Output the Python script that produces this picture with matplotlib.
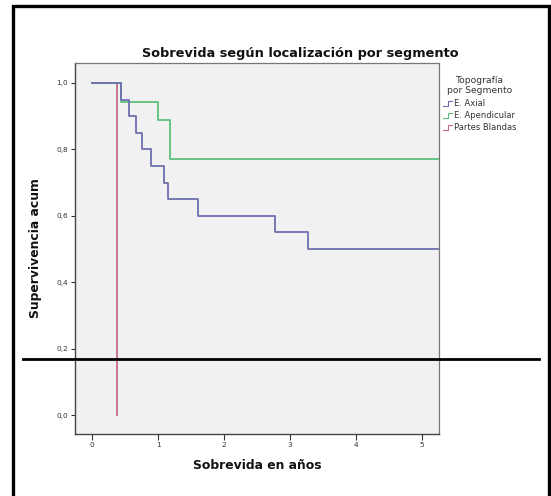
import matplotlib
matplotlib.use('Agg')
import matplotlib.pyplot as plt
from matplotlib.patches import Rectangle
from matplotlib.legend_handler import HandlerLine2D

# ---- data ----
title = "Sobrevida según localización por segmento"
xlabel = "Sobrevida en años"
ylabel = "Supervivencia acum"
legend_title = "Topografía\npor Segmento"
series_names = ["E. Axial", "E. Apendicular", "Partes Blandas"]

axial_t = [0, 0.43, 0.56, 0.66, 0.75, 0.90, 1.09, 1.15, 1.60, 2.77, 3.27, 5.24]
axial_s = [1.0, 0.95, 0.90, 0.85, 0.80, 0.75, 0.70, 0.65, 0.60, 0.55, 0.50, 0.50]

apend_t = [0, 0.43, 1.00, 1.18, 5.24]
apend_s = [1.0, 0.944, 0.889, 0.771, 0.771]

blandas_t = [0, 0.37]
blandas_s = [1.0, 0.0]

xticks = [0, 1, 2, 3, 4, 5]
yticks = [0.0, 0.2, 0.4, 0.6, 0.8, 1.0]
ytick_labels = ["0,0", "0,2", "0,4", "0,6", "0,8", "1,0"]

colors = ["#6f6fb0", "#5cbf7c", "#c86a88"]

W, H = 551, 496
fig = plt.figure(figsize=(W / 100, H / 100), dpi=100)
fig.patch.set_facecolor("white")

# axes placement (pixel-derived)
l, r, t, b = 75, 439, 63, 434
ax = fig.add_axes([l / W, 1 - b / H, (r - l) / W, (b - t) / H])
ax.set_facecolor("#f1f1f1")

ax.step(axial_t, axial_s, where="post", color=colors[0], lw=1.3, label=series_names[0], zorder=3)
ax.step(apend_t, apend_s, where="post", color=colors[1], lw=1.3, label=series_names[1], zorder=2)
ax.step(blandas_t, blandas_s, where="post", color=colors[2], lw=1.3, label=series_names[2], zorder=1)

ax.set_xlim(-0.26, 5.26)
ax.set_ylim(-0.057, 1.06)
ax.set_xticks(xticks)
ax.set_xticklabels([str(v) for v in xticks])
ax.set_yticks(yticks)
ax.set_yticklabels(ytick_labels)
ax.tick_params(axis="both", labelsize=5.3, colors="#333333", length=3, width=0.8)
ax.tick_params(axis="x", length=4, pad=2)
ax.tick_params(axis="y", pad=2)

for side in ["left", "bottom"]:
    ax.spines[side].set_color("#444444")
    ax.spines[side].set_linewidth(1.0)
for side in ["right", "top"]:
    ax.spines[side].set_color("#777777")
    ax.spines[side].set_linewidth(0.9)

fig.text(300 / W, 1 - 53 / H, title, ha="center", va="center",
         fontsize=9.3, fontweight="bold", color="#111111")
ax.set_xlabel(xlabel, fontsize=8.9, fontweight="bold", color="#111111", labelpad=8)
ax.set_ylabel(ylabel, fontsize=8.9, fontweight="bold", color="#111111", labelpad=10)


class StepHandler(HandlerLine2D):
    def create_artists(self, legend, orig_handle, xdescent, ydescent, width, height, fontsize, trans):
        from matplotlib.lines import Line2D
        x0, x1 = -xdescent, -xdescent + width
        y0, y1 = -ydescent + 0.1 * height, -ydescent + 0.9 * height
        xs = [x0, x0 + 0.5 * width, x0 + 0.5 * width, x1]
        ys = [y0, y0, y1, y1]
        line = Line2D(xs, ys, color=orig_handle.get_color(), lw=0.8)
        line.set_transform(trans)
        return [line]


handles, labels = ax.get_legend_handles_labels()
leg = fig.legend(handles, labels, title=legend_title, loc="upper left",
                 bbox_to_anchor=(437 / W, 1 - 70 / H), frameon=False,
                 fontsize=6.0, title_fontsize=6.6, handlelength=1.15, handletextpad=0.2,
                 labelspacing=0.35, borderpad=0.2,
                 handler_map={h: StepHandler() for h in handles})
for txt in leg.get_texts():
    txt.set_color("#333333")
leg.get_title().set_color("#333333")
leg.get_title().set_multialignment("center")
leg._legend_box.sep = 3

# horizontal black rule across the figure
ax.axhline(0.168, xmin=(23 - l) / (r - l), xmax=(539 - l) / (r - l),
           color="black", lw=2.0, clip_on=False, zorder=5)

# outer frame
fig.add_artist(Rectangle((13 / W, -0.02), (549 - 13) / W, 1 - 6 / H + 0.02,
                         transform=fig.transFigure, fill=False, edgecolor="black",
                         lw=2.4))

fig.savefig("out.png", dpi=100)
